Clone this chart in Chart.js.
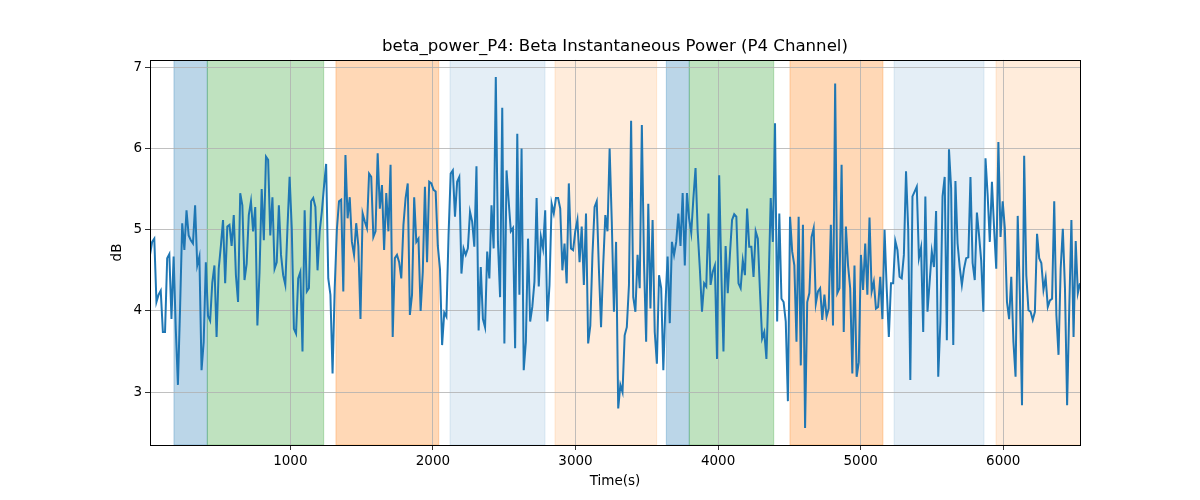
<!DOCTYPE html>
<html>
<head>
<meta charset="utf-8">
<script src="https://cdn.jsdelivr.net/npm/chart.js@4.4.1/dist/chart.umd.min.js"></script>
<style>
  html, body { margin: 0; padding: 0; background: #fff; }
  #wrap { width: 1200px; height: 500px; }
</style>
</head>
<body>
<div id="wrap"><canvas id="myChart" width="1200" height="500"></canvas></div>
<script>
// time range of the recording (s)
const T_START = 16
const T_END = 6538

// beta power on P4, dB left to right
const power = [
  4.69, 4.85, 4.89, 4.11, 4.2, 4.25, 3.74, 3.74, 4.65, 4.7,
  3.9, 4.67, 3.78, 3.09, 4.03, 5.08, 4.75, 5.24, 4.93, 4.87,
  4.83, 5.3, 4.56, 4.67, 3.27, 3.62, 4.6, 3.94, 3.88, 4.35,
  4.56, 3.68, 4.52, 4.8, 5.12, 4.34, 5.04, 5.06, 4.8, 5.18,
  4.44, 4.11, 5.45, 5.3, 4.38, 4.58, 5.18, 5.35, 4.98, 5.28,

  3.82, 4.48, 5.5, 4.87, 5.9, 5.86, 4.93, 5.4, 4.52, 4.6,
  5.3, 4.69, 4.44, 4.32, 5.02, 5.65, 5.02, 3.78, 3.72, 4.4,
  4.48, 3.5, 5.24, 4.24, 4.28, 5.35, 5.39, 5.28, 4.5, 4.98,
  5.22, 5.53, 5.81, 4.4, 4.2, 3.23, 4.28, 5.0, 5.35, 5.37,
  4.24, 5.92, 5.14, 5.4, 4.85, 4.69, 5.08, 4.8, 3.9,

  5.2, 5.1, 5.02, 5.69, 5.65, 4.91, 4.98, 5.94, 5.26, 5.55,
  4.75, 5.45, 4.98, 5.8, 3.68, 4.65, 4.69, 4.6, 4.4, 5.06,
  5.39, 5.57, 3.95, 4.2, 5.4, 4.85, 4.89, 4.0, 4.48, 5.53,
  4.6, 5.59, 5.57, 5.49, 5.47, 4.8, 4.52, 3.58, 3.98, 3.93,
  4.93, 5.69, 5.73, 5.16, 5.59, 5.65, 4.46, 4.77,

  4.69, 4.77, 5.22, 5.1, 4.79, 5.78, 3.76, 4.54, 3.9, 3.8,
  4.73, 4.4, 5.3, 4.77, 6.88, 4.85, 4.17, 6.5, 3.6, 5.73,
  5.35, 4.98, 5.02, 3.54, 6.18, 4.2, 6.0, 3.27, 3.62, 4.89,
  3.87, 4.05, 4.36, 5.39, 4.3, 4.91, 4.77, 5.24, 3.87, 4.32,
  5.32, 5.2, 5.39, 5.39, 5.26, 4.5, 4.83, 4.34, 5.57,

  4.77, 4.75, 4.98, 5.12, 4.6, 5.04, 4.32, 5.2, 3.6, 3.82,
  4.69, 5.28, 5.35, 4.52, 3.8, 4.56, 5.18, 4.98, 6.0, 5.1,
  3.99, 4.85, 2.8, 3.09, 3.0, 3.7, 3.8, 4.32, 6.34, 4.17,
  3.99, 4.69, 4.28, 6.29, 4.6, 3.62, 5.32, 4.03, 5.12, 3.74,
  3.35, 4.44, 4.28, 3.27, 4.09, 4.67, 3.85, 4.85, 4.69,

  4.85, 5.2, 4.8, 5.45, 4.56, 5.45, 5.14, 4.96, 5.39, 5.76,
  4.98, 4.52, 3.99, 4.34, 4.3, 5.2, 4.32, 4.48, 4.56, 3.41,
  5.67, 4.48, 3.5, 4.8, 4.22, 4.69, 5.12, 5.19, 5.16, 4.34,
  4.28, 4.62, 4.44, 5.26, 4.79, 4.79, 4.42, 4.98, 4.89, 4.24,
  3.66, 3.74, 3.41, 4.32, 5.39, 4.85, 6.31, 3.87, 5.2,

  4.15, 4.11, 3.87, 2.89, 5.16, 4.73, 4.56, 3.62, 5.16, 3.33,
  5.06, 2.56, 4.11, 4.22, 4.91, 5.02, 4.09, 4.24, 4.28, 3.89,
  4.2, 3.93, 4.03, 5.06, 3.82, 6.8, 4.22, 4.28, 5.8, 3.74,
  5.04, 4.56, 4.28, 3.23, 4.56, 3.19, 3.37, 4.69, 4.26, 4.83,
  4.2, 5.15, 4.24, 4.36, 4.03, 4.05, 4.42, 3.9, 5.0,

  4.28, 3.68, 4.34, 4.34, 4.86, 4.75, 4.42, 4.4, 4.69, 5.72,
  5.02, 3.15, 5.41, 5.47, 5.53, 4.65, 4.78, 3.74, 5.41, 3.99,
  4.36, 4.73, 4.54, 5.23, 3.19, 3.87, 5.41, 5.65, 3.64, 5.99,
  5.51, 3.58, 5.6, 4.83, 4.54, 4.32, 4.52, 4.65, 4.66, 5.65,
  4.59, 4.38, 5.21, 4.93, 4.62, 3.99, 5.88, 5.43, 4.85, 5.59,

  5.02, 4.52, 6.08, 4.91, 5.35, 5.02, 4.11, 3.9, 4.42, 3.62,
  3.19, 5.17, 4.2, 2.84, 5.91, 4.44, 4.01, 3.99, 3.89, 3.99,
  4.95, 4.65, 4.59, 4.26, 4.41, 4.05, 4.13, 4.15, 5.35, 3.95,
  3.46, 4.52, 5.01, 4.28, 2.84, 4.03, 5.12, 3.68, 4.86, 4.22,
  4.34
]

// shaded task segments (s)
const bandStart = [184, 418, 1320, 2120, 2856, 3637, 3798, 4504, 5234, 5949]
const bandEnd   = [418, 1234, 2041, 2786, 3569, 3798, 4390, 5156, 5865, 6600]
const bandColor = [
  'rgba(31,119,180,0.3)', 'rgba(44,160,44,0.3)', 'rgba(255,127,14,0.3)',
  'rgba(31,119,180,0.12)', 'rgba(255,127,14,0.15)',
  'rgba(31,119,180,0.3)', 'rgba(44,160,44,0.3)', 'rgba(255,127,14,0.3)',
  'rgba(31,119,180,0.12)', 'rgba(255,127,14,0.15)'
]

const xTicks = [1000, 2000, 3000, 4000, 5000, 6000]
const yTicks = [3, 4, 5, 6, 7]

const step = (T_END - T_START) / (power.length - 1)
const points = power.map((v, i) => ({ x: T_START + i * step, y: v }))

const FONT = 'DejaVu Sans'

// vertical spans behind grid and line
const bandsPlugin = {
  id: 'bands',
  beforeDraw(chart) {
    const ctx = chart.ctx
    const area = chart.chartArea
    const xs = chart.scales.x
    ctx.save()
    ctx.beginPath()
    ctx.rect(area.left, area.top, area.right - area.left, area.bottom - area.top)
    ctx.clip()
    for (let i = 0; i < bandStart.length; i++) {
      const a = xs.getPixelForValue(bandStart[i])
      const b = xs.getPixelForValue(bandEnd[i])
      ctx.fillStyle = bandColor[i]
      ctx.fillRect(a, area.top, b - a, area.bottom - area.top)
      ctx.strokeStyle = bandColor[i]
      ctx.lineWidth = 1
      ctx.strokeRect(a, area.top, b - a, area.bottom - area.top)
    }
    ctx.restore()
  },
  afterDraw(chart) {
    const ctx = chart.ctx
    const area = chart.chartArea
    ctx.save()
    ctx.strokeStyle = '#000'
    ctx.lineWidth = 1
    ctx.strokeRect(Math.round(area.left) + 0.5, Math.round(area.top) + 0.5,
      Math.round(area.right - area.left), Math.round(area.bottom - area.top))
    ctx.restore()
  }
}

const ctx = document.getElementById('myChart').getContext('2d')
const chart = new Chart(ctx, {
  type: 'line',
  data: {
    datasets: [{
      label: 'beta_power_P4',
      data: points,
      borderColor: '#1f77b4',
      borderWidth: 2,
      pointRadius: 0,
      tension: 0,
      fill: false
    }]
  },
  options: {
    responsive: false,
    animation: false,
    devicePixelRatio: 1,
    layout: { padding: { left: 0, right: 120, top: 0, bottom: 0 } },
    plugins: {
      legend: { display: false },
      tooltip: { enabled: false },
      title: {
        display: true,
        fullSize: false,
        text: 'beta_power_P4: Beta Instantaneous Power (P4 Channel)',
        color: '#000',
        font: { family: FONT, size: 16.6, weight: 'normal' },
        padding: { top: 37, bottom: 3 }
      }
    },
    scales: {
      x: {
        type: 'linear',
        min: T_START,
        max: T_END,
        afterFit(scale) { scale.height = 55 },
        afterBuildTicks(scale) { scale.ticks = xTicks.map(v => ({ value: v })) },
        grid: { color: '#b0b0b0', lineWidth: 0.8, tickLength: 5, tickColor: '#000' },
        border: { display: false },
        ticks: {
          color: '#000', font: { family: FONT, size: 13.5 }, padding: 3,
          maxRotation: 0, autoSkip: false,
          callback: v => String(v)
        },
        title: {
          display: true, text: 'Time(s)', color: '#000',
          font: { family: FONT, size: 13.5 }, padding: { top: 0, bottom: 10.6 }
        }
      },
      y: {
        min: 2.35,
        max: 7.09,
        afterFit(scale) { scale.width = 150 },
        afterBuildTicks(scale) { scale.ticks = yTicks.map(v => ({ value: v })) },
        grid: { color: '#b0b0b0', lineWidth: 0.8, tickLength: 5, tickColor: '#000' },
        border: { display: false },
        ticks: {
          color: '#000', font: { family: FONT, size: 13.5 }, padding: 3,
          callback: v => String(v)
        },
        title: {
          display: true, text: 'dB', color: '#000',
          font: { family: FONT, size: 13.5 }, padding: { top: 109.6, bottom: 0 }
        }
      }
    }
  },
  plugins: [bandsPlugin]
})
</script>
</body>
</html>
